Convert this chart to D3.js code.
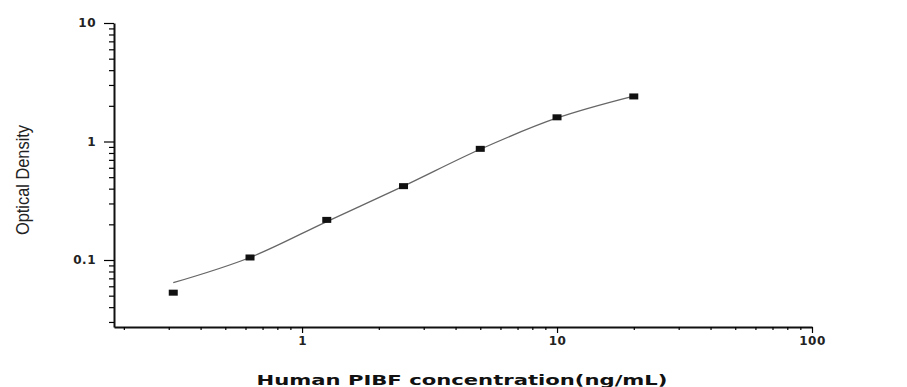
<!DOCTYPE html>
<html>
<head>
<meta charset="utf-8">
<script src="https://cdn.jsdelivr.net/npm/d3@7"></script>
<style>
  body { margin: 0; background: #fff; }
  svg { display: block; }
</style>
</head>
<body>
<div id="chart"></div>
<script>
const width = 907;
const height = 387;

// standard points (ng/mL) and measured OD
const concentrations = [0.3125, 0.625, 1.25, 2.5, 5, 10, 20];
const odValues = [0.053, 0.105, 0.218, 0.42, 0.867, 1.60, 2.40];

// fitted curve at the same concentrations
const curveConc = [0.3125, 0.625, 1.25, 2.5, 5, 10, 20];
const curveOD = [0.0643, 0.105, 0.211, 0.42, 0.86, 1.58, 2.42];

const xTitle = "Human PIBF concentration(ng/mL)";
const yTitle = "Optical Density";

const x = d3.scaleLog().domain([0.183, 100]).range([114, 812]);
const y = d3.scaleLog().domain([0.0272, 10]).range([327, 23]);

const svg = d3.select("#chart").append("svg")
    .attr("width", width)
    .attr("height", height);

const isMajor = v => Math.abs(Math.log10(v) - Math.round(Math.log10(v))) < 1e-9;
const fmt = v => isMajor(v) ? d3.format("~g")(v) : "";

// y axis
const yAxis = svg.append("g")
    .attr("transform", "translate(114,0)")
    .call(d3.axisLeft(y).tickValues(y.ticks()).tickFormat(fmt).tickSizeOuter(0));

yAxis.selectAll(".tick line")
    .attr("x2", d => isMajor(d) ? -10 : -5)
    .attr("stroke-width", 1.2);

// x axis
const xAxis = svg.append("g")
    .attr("transform", "translate(0,327)")
    .call(d3.axisBottom(x).tickValues(x.ticks().filter(d => d >= 0.2)).tickFormat(fmt).tickSizeOuter(0));

xAxis.selectAll(".tick line")
    .attr("y2", d => isMajor(d) ? 6 : 3)
    .attr("stroke-width", 1.2);

svg.selectAll(".domain")
    .attr("stroke", "#111")
    .attr("stroke-width", 2);

svg.selectAll(".tick text")
    .style("font-family", "'DejaVu Sans', sans-serif")
    .style("font-weight", "bold")
    .style("font-size", "12px")
    .style("letter-spacing", "0.5px")
    .attr("fill", "#222");

yAxis.selectAll(".tick text").attr("x", -18);
xAxis.selectAll(".tick text").attr("y", 9);

// fitted curve
const line = d3.line()
    .x((d, i) => x(curveConc[i]))
    .y(d => y(d))
    .curve(d3.curveMonotoneX);

svg.append("path")
    .datum(curveOD)
    .attr("d", line)
    .attr("fill", "none")
    .attr("stroke", "#666")
    .attr("stroke-width", 1.3);

// markers
svg.selectAll("rect.pt")
    .data(concentrations)
    .join("rect")
    .attr("class", "pt")
    .attr("x", d => x(d) - 4.5)
    .attr("y", (d, i) => y(odValues[i]) - 3)
    .attr("width", 9)
    .attr("height", 6)
    .attr("fill", "#111");

// titles
svg.append("text")
    .attr("transform", "translate(29,180) rotate(-90)")
    .attr("text-anchor", "middle")
    .attr("textLength", 110)
    .attr("lengthAdjust", "spacingAndGlyphs")
    .style("font-family", "'Liberation Sans Narrow', 'Liberation Sans', Arial, sans-serif")
    .style("font-size", "18px")
    .attr("fill", "#222")
    .text(yTitle);

svg.append("text")
    .attr("x", 462)
    .attr("y", 385)
    .attr("text-anchor", "middle")
    .attr("textLength", 411)
    .attr("lengthAdjust", "spacingAndGlyphs")
    .style("font-family", "'DejaVu Sans', 'Liberation Sans', sans-serif")
    .style("font-weight", "bold")
    .style("font-size", "14px")
    .attr("fill", "#111")
    .text(xTitle);
</script>
</body>
</html>
